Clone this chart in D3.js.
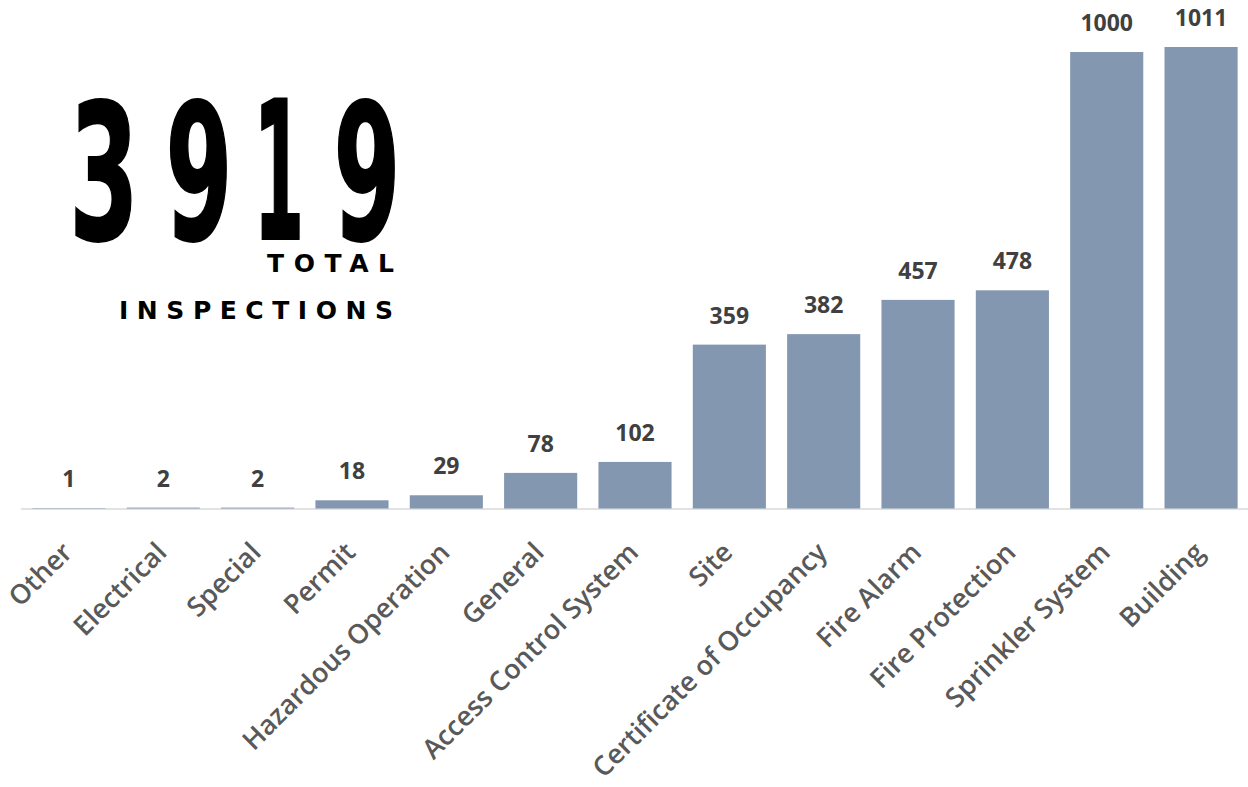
<!DOCTYPE html>
<meta charset="utf-8">
<head>
  <title>Total inspections</title>
</head>

<style>
body {
  margin: 0;
  background: #fff;
}
</style>

<body>
  <svg width="1248" height="787"></svg>

  <script src="https://cdnjs.cloudflare.com/ajax/libs/d3/7.8.5/d3.min.js"></script>

  <script>
var categories = ['Other', 'Electrical', 'Special', 'Permit', 'Hazardous Operation', 'General',
  'Access Control System', 'Site', 'Certificate of Occupancy', 'Fire Alarm', 'Fire Protection',
  'Sprinkler System', 'Building'];
var counts = [1, 2, 2, 18, 29, 78, 102, 359, 382, 457, 478, 1000, 1011];
var totalLabel = ['TOTAL', 'INSPECTIONS'];

var svg = d3.select('svg');

var x = d3.scaleBand()
  .domain(categories)
  .range([22, 1248])
  .paddingInner(0.225)
  .paddingOuter(0.11);

var y = d3.scaleLinear()
  .domain([0, 1011])
  .range([508.5, 47]);

// baseline
svg.append('line')
  .attr('x1', 21).attr('x2', 1248)
  .attr('y1', y(0) + 0.5).attr('y2', y(0) + 0.5)
  .attr('stroke', '#d9d9d9')
  .attr('stroke-width', 1.5);

svg.selectAll('rect.bar')
  .data(counts)
  .enter().append('rect')
  .attr('class', 'bar')
  .attr('x', function(d, i) { return x(categories[i]); })
  .attr('width', x.bandwidth())
  .attr('y', function(d) { return y(d); })
  .attr('height', function(d) { return y(0) - y(d); })
  .attr('fill', '#8497b0');

svg.selectAll('text.value')
  .data(counts)
  .enter().append('text')
  .attr('class', 'value')
  .attr('x', function(d, i) { return x(categories[i]) + x.bandwidth() / 2; })
  .attr('y', function(d) { return y(d) - 21; })
  .attr('text-anchor', 'middle')
  .attr('font-family', '"Open Sans", sans-serif')
  .attr('font-weight', 700)
  .attr('font-size', 23)
  .attr('fill', '#404040')
  .text(function(d) { return d; });

svg.selectAll('text.cat')
  .data(categories)
  .enter().append('text')
  .attr('class', 'cat')
  .attr('transform', function(d) {
    return 'translate(' + (x(d) + x.bandwidth() / 2 + 5) + ',554) rotate(-45)';
  })
  .attr('text-anchor', 'end')
  .attr('font-family', '"Open Sans", sans-serif')
  .attr('font-weight', 600)
  .attr('font-size', 27)
  .attr('fill', '#595959')
  .text(function(d) { return d; });

// big total: tall condensed digits, squeezed to fit the ink box of each one
var total = d3.sum(counts);
var digits = String(total).split('');
var digitBox = [[75, 132], [170, 227], [261, 300], [338, 395]];
var digitTop = 98, digitBottom = 240, fs = 195, sw = 2;
var bigFont = '"Liberation Sans Narrow", "DejaVu Sans Condensed", "DejaVu Sans", sans-serif';
var ctx = document.createElement('canvas').getContext('2d');
ctx.font = 'bold ' + fs + 'px ' + bigFont;
var big = svg.append('g');
digits.forEach(function(ch, i) {
  var m = ctx.measureText(ch);
  var inkL = -m.actualBoundingBoxLeft - sw / 2;
  var inkR = m.actualBoundingBoxRight + sw / 2;
  var asc = m.actualBoundingBoxAscent + sw / 2;
  var sx = (digitBox[i][1] - digitBox[i][0]) / (inkR - inkL);
  var sy = (digitBottom - digitTop) / (asc + sw / 2);
  big.append('text')
    .attr('font-family', bigFont)
    .attr('font-weight', 700)
    .attr('font-size', fs)
    .attr('fill', '#000')
    .attr('stroke', '#000')
    .attr('stroke-width', sw)
    .attr('transform', 'translate(' + (digitBox[i][0] - inkL * sx) + ',' + (digitBottom - sw / 2 * sy) + ') scale(' + sx + ',' + sy + ')')
    .text(ch);
});

svg.selectAll('text.total')
  .data(totalLabel)
  .enter().append('text')
  .attr('class', 'total')
  .attr('x', function(d, i) { return i === 0 ? 267 : 119; })
  .attr('y', function(d, i) { return i === 0 ? 272 : 319; })
  .attr('textLength', function(d, i) { return i === 0 ? 127 : 274; })
  .attr('lengthAdjust', 'spacing')
  .attr('font-family', '"DejaVu Sans", sans-serif')
  .attr('font-weight', 700)
  .attr('font-size', 25)
  .attr('fill', '#000')
  .text(function(d) { return d; });
  </script>
</body>
</html>
